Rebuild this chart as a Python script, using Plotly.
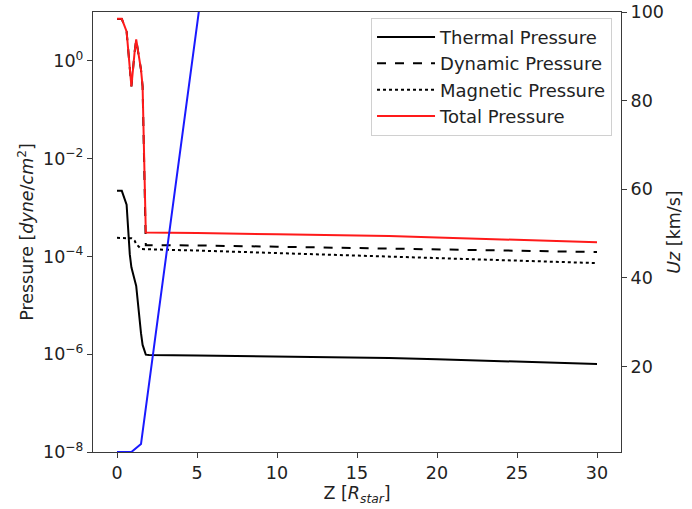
import plotly.graph_objects as go

# Z positions [R_star]
z = [0.0, 0.3, 0.6, 0.8, 0.9, 1.1, 1.2, 1.5, 1.6, 1.8, 2.0, 5.0, 10.0, 15.0, 17.0, 20.0, 25.0, 30.0]

thermal = [2.2e-3, 2.2e-3, 1.15e-3, 1.1e-4, 6.0e-5, 3.2e-5, 2.5e-5, 2.7e-6, 1.55e-6, 9.8e-7,
           9.6e-7, 9.4e-7, 9.0e-7, 8.6e-7, 8.4e-7, 7.9e-7, 7.0e-7, 6.3e-7]
dynamic = [7.2, 7.2, 4.0, 0.6, 0.3, 1.5, 2.7, 0.66, 0.3, 1.7e-4,
           1.7e-4, 1.68e-4, 1.58e-4, 1.48e-4, 1.45e-4, 1.4e-4, 1.32e-4, 1.23e-4]
magnetic = [2.4e-4, 2.4e-4, 2.4e-4, 2.4e-4, 2.35e-4, 2.1e-4, 1.8e-4, 1.42e-4, 1.41e-4, 1.41e-4,
            1.4e-4, 1.32e-4, 1.18e-4, 1.05e-4, 1.0e-4, 9.2e-5, 8.2e-5, 7.3e-5]
total = [7.25, 7.25, 4.0, 0.6, 0.3, 1.5, 2.75, 0.66, 0.3, 3.1e-4,
         3.1e-4, 3.0e-4, 2.85e-4, 2.7e-4, 2.62e-4, 2.45e-4, 2.2e-4, 1.95e-4]

z_u = [0.0, 0.9, 1.5, 2.0, 3.0, 4.0, 5.0, 6.0]
uz = [0.7, 0.7, 2.5, 16.0, 43.0, 70.0, 97.0, 124.0]

ytick_vals = [1e0, 1e-2, 1e-4, 1e-6, 1e-8]
ytick_text = ["10<sup>0</sup>", "10<sup>\u22122</sup>", "10<sup>\u22124</sup>",
              "10<sup>\u22126</sup>", "10<sup>\u22128</sup>"]
xtick_vals = [0, 5, 10, 15, 20, 25, 30]
y2tick_vals = [20, 40, 60, 80, 100]

FONT = "DejaVu Sans"
AX = "#3a3a3a"
FS = 17.5

fig = go.Figure()
fig.add_trace(go.Scatter(x=z, y=thermal, mode="lines", name="Thermal Pressure",
                         line=dict(color="black", width=2)))
fig.add_trace(go.Scatter(x=z, y=dynamic, mode="lines", name="Dynamic Pressure",
                         line=dict(color="black", width=2, dash="dash")))
fig.add_trace(go.Scatter(x=z, y=magnetic, mode="lines", name="Magnetic Pressure",
                         line=dict(color="black", width=2, dash="dot")))
fig.add_trace(go.Scatter(x=z, y=total, mode="lines", name="Total Pressure",
                         line=dict(color="#ff1a1a", width=2)))
fig.add_trace(go.Scatter(x=z_u, y=uz, mode="lines", name="Uz", showlegend=False,
                         line=dict(color="#1a1aff", width=2), yaxis="y2"))

axis_common = dict(showline=True, linecolor=AX, linewidth=1.2, ticks="outside",
                   ticklen=5, tickcolor=AX, showgrid=False, zeroline=False,
                   automargin=False, ticklabeloverflow="allow",
                   tickfont=dict(family=FONT, size=FS, color="#222"))

fig.update_layout(
    width=692, height=509,
    margin=dict(l=93, r=71, t=12, b=57),
    paper_bgcolor="white", plot_bgcolor="white",
    font=dict(family=FONT, size=FS, color="#222"),
    xaxis=dict(range=[-1.5, 31.5], tickvals=xtick_vals, mirror=True,
               title=dict(text="Z [<i>R</i><sub><i>star</i></sub>]", standoff=2,
                          font=dict(family=FONT, size=FS)),
               **axis_common),
    yaxis=dict(type="log", range=[-8, 1], tickvals=ytick_vals, ticktext=ytick_text,
               mirror=True,
               title=dict(text="Pressure [<i>dyne</i>/<i>cm</i><sup>2</sup>]", standoff=4,
                          font=dict(family=FONT, size=FS)),
               **axis_common),
    yaxis2=dict(overlaying="y", side="right", range=[0.7, 100], tickvals=y2tick_vals,
                title=dict(text="<i>Uz</i> [km/s]", standoff=4,
                           font=dict(family=FONT, size=FS)),
                **axis_common),
    legend=dict(x=0.983, y=0.987, xanchor="right", yanchor="top",
                bgcolor="rgba(255,255,255,0.9)", bordercolor="#d0d0d0", borderwidth=1,
                itemwidth=58,
                font=dict(family=FONT, size=18, color="#222"), tracegroupgap=0),
    showlegend=True,
)

# remove the default 8px page margin so the 692x509 figure fills the window
fig.write_html("out.html", config={"displayModeBar": False},
               post_script="document.body.style.margin='0px';document.body.style.padding='0px';")
